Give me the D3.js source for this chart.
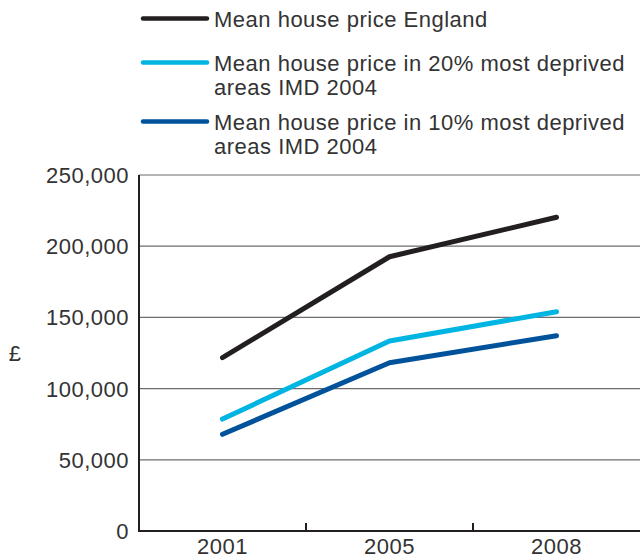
<!DOCTYPE html>
<html>
<head>
<meta charset="utf-8">
<script src="https://cdn.jsdelivr.net/npm/d3@7"></script>
<style>
  body { margin: 0; background: #fff; }
  svg { display: block; font-family: "Liberation Sans", Arial, sans-serif; letter-spacing: 0.5px; }
</style>
</head>
<body>
<svg width="640" height="560"></svg>
<script>
var years = ["2001", "2005", "2008"];
var england = [121700, 192600, 220300];
var deprived20 = [78600, 133400, 154000];
var deprived10 = [67900, 118200, 137100];
var yTicks = [0, 50000, 100000, 150000, 200000, 250000];

var series = [
    {name: ["Mean house price England"], values: england, color: "#231f20"},
    {name: ["Mean house price in 20% most deprived", "areas IMD 2004"], values: deprived20, color: "#00b5e2"},
    {name: ["Mean house price in 10% most deprived", "areas IMD 2004"], values: deprived10, color: "#00539b"}
];

var svg = d3.select("svg");
var plotLeft = 139, plotRight = 640, plotTop = 175, plotBottom = 531;

var x = d3.scaleBand().domain(years).range([plotLeft, plotRight]);
var y = d3.scaleLinear().domain([0, 250000]).range([plotBottom, plotTop]);

// gridlines
svg.append("g")
    .selectAll("line")
    .data(yTicks.filter(function(d) { return d > 0; }))
    .enter().append("line")
    .attr("x1", plotLeft).attr("x2", plotRight)
    .attr("y1", function(d) { return y(d); })
    .attr("y2", function(d) { return y(d); })
    .attr("stroke", "#6d6d6d")
    .attr("stroke-width", 1.2);

// y axis labels
var fmt = d3.format(",");
svg.append("g")
    .selectAll("text")
    .data(yTicks)
    .enter().append("text")
    .attr("x", 129)
    .attr("y", function(d) { return y(d) + 8; })
    .attr("text-anchor", "end")
    .attr("font-size", 22)
    .attr("fill", "#333")
    .text(function(d) { return fmt(d); });

svg.append("text")
    .attr("x", 15).attr("y", 361)
    .attr("text-anchor", "middle")
    .attr("font-size", 22)
    .attr("fill", "#333")
    .text("£");

// axis lines
svg.append("line")
    .attr("x1", plotLeft).attr("x2", plotLeft)
    .attr("y1", plotTop).attr("y2", plotBottom + 1)
    .attr("stroke", "#231f20").attr("stroke-width", 2);
svg.append("line")
    .attr("x1", plotLeft - 1).attr("x2", plotRight)
    .attr("y1", plotBottom).attr("y2", plotBottom)
    .attr("stroke", "#231f20").attr("stroke-width", 2);

// x ticks at band boundaries
svg.append("g")
    .selectAll("line")
    .data(years.slice(1))
    .enter().append("line")
    .attr("x1", function(d) { return x(d); })
    .attr("x2", function(d) { return x(d); })
    .attr("y1", plotBottom).attr("y2", plotBottom - 8)
    .attr("stroke", "#231f20").attr("stroke-width", 2);

svg.append("g")
    .selectAll("text")
    .data(years)
    .enter().append("text")
    .attr("x", function(d) { return x(d) + x.bandwidth() / 2; })
    .attr("y", 554)
    .attr("text-anchor", "middle")
    .attr("font-size", 22)
    .attr("fill", "#333")
    .text(function(d) { return d; });

// lines
var line = d3.line()
    .x(function(d, i) { return x(years[i]) + x.bandwidth() / 2; })
    .y(function(d) { return y(d); });

svg.append("g")
    .selectAll("path")
    .data(series)
    .enter().append("path")
    .attr("d", function(d) { return line(d.values); })
    .attr("fill", "none")
    .attr("stroke", function(d) { return d.color; })
    .attr("stroke-width", 5)
    .attr("stroke-linecap", "round")
    .attr("stroke-linejoin", "round");

// legend
var legendY = [18.5, 62.5, 121.5];
var legend = svg.append("g")
    .selectAll("g")
    .data(series)
    .enter().append("g")
    .attr("transform", function(d, i) { return "translate(0," + legendY[i] + ")"; });

legend.append("line")
    .attr("x1", 143).attr("x2", 207)
    .attr("stroke", function(d) { return d.color; })
    .attr("stroke-width", 4.5)
    .attr("stroke-linecap", "round");

legend.append("text")
    .attr("x", 214)
    .attr("y", 8.5)
    .attr("font-size", 22)
    .attr("fill", "#333")
    .selectAll("tspan")
    .data(function(d) { return d.name; })
    .enter().append("tspan")
    .attr("x", 214)
    .attr("dy", function(d, i) { return i === 0 ? 0 : 24; })
    .text(function(d) { return d; });
</script>
</body>
</html>
